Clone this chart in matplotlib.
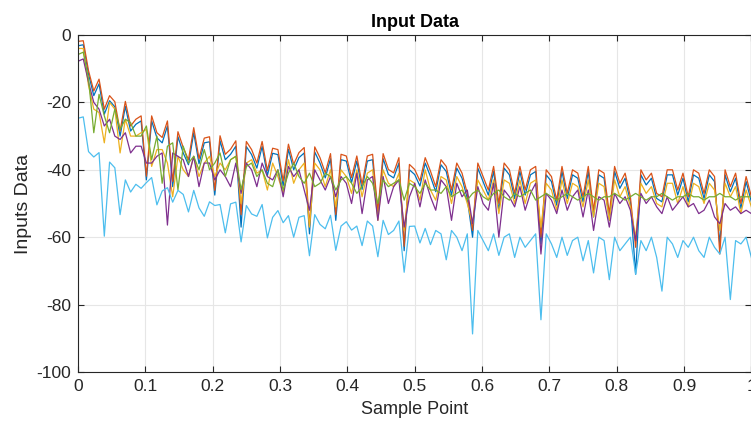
import numpy as np
import matplotlib
matplotlib.use("Agg")
import matplotlib.pyplot as plt

# ---- data ----
orange = [-1.9, -1.7, -10.6, -16.6, -13.1, -22, -18.0, -19.8, -28.5, -19.7, -27, -25, -24, -41.9, -24, -29,
          -30.4, -25.5, -43.5, -28.7, -33.4, -37, -27.5, -36.7, -30.6, -30.2, -46.1, -29.9, -35.4, -33.9, -31.4, -53.3,
          -31.6, -34, -38, -31.6, -40.2, -33.6, -34.0, -43.3, -32.4, -38.4, -34.9, -33.4, -56.7, -33.2, -36.4, -40.9,
          -35.2, -53.3, -35.4, -35.9, -42.3, -35.9, -44.3, -35.9, -35.4, -52.3, -35.2, -39.9, -40.9, -36.4, -62.7, -38.4,
          -39.9, -43.3, -36.4, -40.4, -45, -37, -39, -46, -38, -41, -47, -58, -38, -42, -46, -39,
          -50, -38, -40, -47, -39, -46, -40, -39, -60, -40, -42, -49, -39, -47, -40, -41,
          -48, -39, -52, -40, -41, -53, -39, -44, -41, -48, -63, -40, -43, -41, -47, -48,
          -40, -40, -46, -41, -48, -40, -41, -47, -40, -42, -65, -40, -45, -41, -50, -42, -48]
blue = [-3.2, -2.9, -11.6, -18.0, -14.5, -23.5, -19.5, -21.3, -30, -21.2, -28.5, -26.5, -25.5, -43, -25.5, -30.5,
        -32, -27, -45, -30.2, -35, -38.5, -29, -38.2, -32, -31.7, -47.5, -31.4, -37, -35.4, -33, -57,
        -33.1, -35.5, -39.5, -33.1, -41.7, -35.1, -35.5, -44.8, -33.9, -40, -36.4, -35, -59, -34.7, -38, -42.4,
        -36.7, -55, -37, -37.4, -43.8, -37.4, -45.8, -37.4, -37, -54, -36.7, -41.4, -42.4, -38, -64, -40,
        -41.4, -44.8, -38, -42, -46.5, -38.5, -40.5, -47.5, -39.5, -42.5, -48.5, -60, -39.5, -43.5, -47.5, -40.5,
        -52, -39.5, -41.5, -48.5, -40.5, -47.5, -41.5, -40.5, -62, -41.5, -43.5, -50.5, -40.5, -48.5, -41.5, -42.5,
        -49.5, -40.5, -54, -41.5, -42.5, -55, -40.5, -45.5, -42.5, -49.5, -71, -41.5, -44.5, -42.5, -48.5, -49.5,
        -41.5, -41.5, -47.5, -42.5, -49.5, -41.5, -42.5, -48.5, -41.5, -43.5, -62, -41.5, -46.5, -42.5, -51.5, -43.5, -49.5]
yellow = [-4, -4, -15, -22, -23, -32, -20, -22, -35, -25, -30, -30, -29, -28, -39, -34,
          -34, -38, -48, -36, -40, -42, -36, -42, -38, -36, -42, -38, -40, -37, -36, -50,
          -38, -37, -41, -40, -46, -38, -42, -47, -37, -44, -40, -38, -57, -38, -40, -45,
          -40, -51, -40, -42, -47, -40, -48, -41, -40, -55, -40, -44, -45, -41, -58, -43,
          -44, -49, -40, -46, -49, -42, -43, -50, -42, -45, -50, -56, -43, -46, -49, -43,
          -53, -43, -44, -50, -43, -50, -44, -43, -57, -44, -46, -52, -43, -50, -44, -45,
          -51, -43, -54, -44, -45, -55, -43, -48, -45, -51, -60, -44, -47, -45, -50, -51,
          -44, -44, -50, -45, -51, -44, -45, -50, -44, -46, -58, -44, -48, -45, -53, -46, -51]
purple = [-7.8, -7.1, -14, -20, -22, -27, -25, -30, -31, -29, -35, -33, -33, -38, -38, -36,
          -35, -56.4, -35, -36, -37, -42, -36, -45, -38, -38, -43, -40, -42, -45, -38, -47,
          -38, -40, -45, -38, -42, -43, -40, -48, -39, -42, -40, -46, -52, -40, -43, -46,
          -42, -48, -42, -44, -50, -41, -53, -43, -42, -55, -42, -50, -45, -43, -57, -48,
          -44, -51, -43, -48, -52, -43, -45, -55, -44, -48, -46, -56, -45, -50, -52, -44,
          -60, -46, -48, -51, -45, -52, -47, -44, -65, -47, -49, -53, -46, -52, -48, -46,
          -54, -46, -58, -48, -49, -57, -47, -50, -48, -52, -61, -47, -50, -48, -51, -53,
          -48, -52, -50, -48, -51, -50, -53, -52, -49, -54, -56, -50, -52, -51, -53, -52, -53]
green = [-5.8, -5.1, -13, -29, -17.6, -24, -29, -22, -28, -25, -26, -30, -30, -27, -37, -30,
         -44, -33, -32, -46, -33, -38, -36, -40, -34, -40, -38, -35, -42, -37, -36, -46,
         -39, -38, -42, -40, -44, -45, -40, -46, -41, -38, -42, -44, -41, -45, -44, -41,
         -42, -46, -43, -42, -44, -47, -45, -42, -44, -50, -43, -45, -44, -43, -49, -44,
         -45, -47, -44, -46, -46, -47, -45, -48, -47, -46, -49, -47, -46, -48, -49, -47,
         -46, -48, -49, -47, -48, -47, -46, -49, -48, -47, -48, -49, -48, -47, -48, -49,
         -48, -47, -48, -49, -48, -48, -47, -48, -49, -48, -47, -48, -49, -48, -48, -47,
         -48, -49, -48, -48, -47, -48, -48, -49, -48, -48, -47, -48, -48, -49, -48, -48, -48]
lightblue = [-24.7, -24.3, -34.6, -36.2, -34.9, -59.7, -37.7, -39.4, -53.3, -43.0, -46.6, -44.3, -45.5, -43.8, -42.3, -50.4,
             -46.3, -45.3, -49.6, -46.1, -47.3, -52.5, -46.1, -51.3, -53.8, -49.5, -50.6, -50.3, -58.7, -50.1, -49.6, -61.4,
             -50.6, -53.1, -53.8, -50.3, -60.2, -54.1, -52.1, -55.7, -53.6, -60.0, -54.1, -53.6, -65.5, -53.3, -56.2, -57.5,
             -53.5, -63.9, -56.7, -55.4, -57.9, -56.7, -62.5, -55.2, -56.7, -65.8, -55.0, -59.2, -58.0, -55.2, -70.4, -56.8,
             -56.7, -61.7, -57.4, -62.2, -58, -59, -66.7, -58, -60, -64, -59, -88.7, -58, -61, -64, -59,
             -65.4, -60, -59, -66, -60, -63, -61, -59, -84.5, -59, -62, -66, -60, -65.4, -61, -60,
             -67, -61, -70.6, -60, -61, -72.6, -60, -64, -62, -60, -71, -61, -64, -60, -66, -76,
             -60, -62, -66, -61, -63, -60, -64, -66, -60, -63, -65, -60, -78.5, -61, -62, -60, -66]

series = [blue, orange, yellow, purple, green, lightblue]
colors = ["#0072BD", "#D95319", "#EDB120", "#7E2F8E", "#77AC30", "#4DBEEE"]
xticks = [0, 0.1, 0.2, 0.3, 0.4, 0.5, 0.6, 0.7, 0.8, 0.9, 1]
xticklabels = ["0", "0.1", "0.2", "0.3", "0.4", "0.5", "0.6", "0.7", "0.8", "0.9", "1"]
yticks = [-100, -80, -60, -40, -20, 0]
yticklabels = ["-100", "-80", "-60", "-40", "-20", "0"]

plt.rcParams['font.family'] = ['Liberation Sans', 'DejaVu Sans']
fig = plt.figure(figsize=(7.51, 4.25), dpi=100)
ax = fig.add_axes([78 / 751, 1 - 372 / 425, 1 - 78 / 751 + 0.0005, (372 - 35) / 425])

for s, c in zip(series, colors):
    x = np.linspace(0, 1, len(s))
    ax.plot(x, s, color=c, lw=0.9)

ax.set_xlim(0, 1)
ax.set_ylim(-100, 0)
ax.set_xticks(xticks)
ax.set_xticklabels(xticklabels)
ax.set_yticks(yticks)
ax.set_yticklabels(yticklabels)
ax.grid(True, color="#e6e6e6", lw=0.8)
ax.set_axisbelow(True)
dark = "#262626"
for sp in ax.spines.values():
    sp.set_color(dark)
    sp.set_linewidth(0.8)
ax.tick_params(direction="in", length=4, width=0.8, colors=dark, labelsize=12.5,
               top=True, right=True, pad=5)
ax.set_title("Input Data", fontsize=13, fontweight="bold", color="black", pad=6)
ax.set_xlabel("Sample Point", fontsize=13, color=dark, labelpad=5)
ax.set_ylabel("Inputs Data", fontsize=14, color=dark, labelpad=3)

fig.savefig("out.png", dpi=100)
